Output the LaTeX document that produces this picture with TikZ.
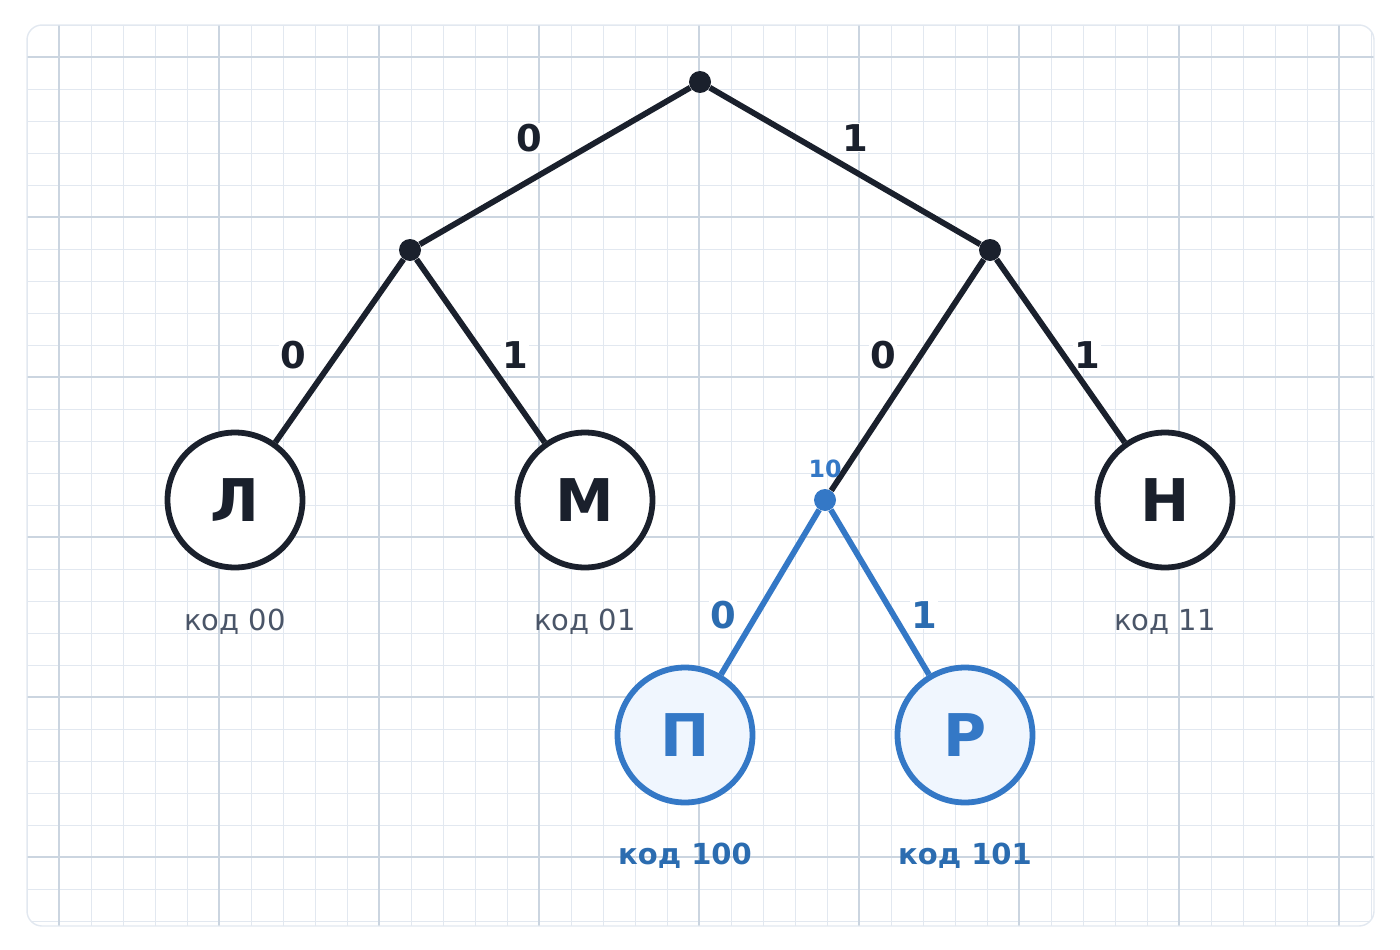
\documentclass[tikz,border=0pt]{standalone}
\usepackage{fontspec}
\setmainfont{DejaVu Sans}
\usetikzlibrary{positioning}
\definecolor{ink}{HTML}{1A202C}
\definecolor{codeblue}{HTML}{3478C6}
\definecolor{codebluedark}{HTML}{2B6CB0}
\definecolor{codegray}{HTML}{4A5568}
\definecolor{gridminor}{HTML}{E2E8F0}
\definecolor{gridmajor}{HTML}{CBD5E0}
\definecolor{leaffill}{HTML}{F0F6FE}
\tikzset{
	leaf/.style={circle, draw=ink, line width=3.3pt, fill=white, minimum size=2.7cm, inner sep=0pt, text=ink, font=\fontsize{33.5}{33.5}\selectfont\bfseries},
	newleaf/.style={leaf, draw=codeblue, fill=leaffill, text=codeblue},
	joint/.style={circle, fill=ink, inner sep=0pt, minimum size=0.44cm},
	bit/.style={anchor=base, fill=white, inner sep=0.6pt, text=ink, font=\fontsize{21}{21}\selectfont\bfseries},
	codelbl/.style={anchor=base, text=codegray, font=\fontsize{16.5}{16.5}\selectfont},
	newcodelbl/.style={anchor=base, text=codebluedark, font=\fontsize{16.5}{16.5}\selectfont\bfseries},
	edge/.style={ink, line width=3.3pt},
}
\begin{document}
\begin{tikzpicture}[x=0.02cm, y=-0.02cm]
				\useasboundingbox (0,0) rectangle (1400,950);
				% paper
				\fill[white, rounded corners=0.3cm] (27,25) rectangle (1374,926);
				\begin{scope}
					\clip[rounded corners=0.3cm] (27,25) rectangle (1374,926);
					\foreach \gx in {27,59,...,1371} \draw[gridminor, line width=0.55pt] (\gx,25) -- (\gx,926);
					\foreach \gy in {25,57,...,921} \draw[gridminor, line width=0.55pt] (27,\gy) -- (1374,\gy);
					\foreach \gx in {59,219,...,1339} \draw[gridmajor, line width=1.1pt] (\gx,25) -- (\gx,926);
					\foreach \gy in {57,217,...,857} \draw[gridmajor, line width=1.1pt] (27,\gy) -- (1374,\gy);
				\end{scope}
				\draw[gridminor, line width=0.8pt, rounded corners=0.3cm] (27,25) rectangle (1374,926);

				% bits
				\node[bit] (b0) at (529,151) {0};
				\node[bit] (b1) at (855,151) {1};
				\node[bit] (b00) at (293,368) {0};
				\node[bit] (b01) at (515,368) {1};
				\node[bit] (b10) at (883,368) {0};
				\node[bit] (b11) at (1087,368) {1};
				\node[bit, text=codebluedark] (b100) at (723,628) {0};
				\node[bit, text=codebluedark] (b101) at (924,628) {1};

				% tree
				\node[joint] (root) at (700,82) {};
				\node[joint] (left) at (410,250) {};
				\node[joint] (right) at (990,250) {};
				\node[leaf] (L) at (235,500) {Л};
				\node[leaf] (M) at (585,500) {М};
				\node[joint, fill=codeblue] (mid) at (825,500) {};
				\node[leaf] (N) at (1165,500) {Н};
				\node[newleaf] (P) at (685,735) {П};
				\node[newleaf] (R) at (965,735) {Р};

				\draw[edge] (root) -- (left);
				\draw[edge] (root) -- (right);
				\draw[edge] (left) -- (L);
				\draw[edge] (left) -- (M);
				\draw[edge] (right) -- (mid);
				\draw[edge] (right) -- (N);
				\draw[edge, codeblue] (mid) -- (P);
				\draw[edge, codeblue] (mid) -- (R);

				\node[anchor=base, text=codeblue, font=\fontsize{13.5}{13.5}\selectfont\bfseries] (midlbl) at (825,477) {10};

				% codes
				\node[codelbl] (cL) at (235,630) {код 00};
				\node[codelbl] (cM) at (585,630) {код 01};
				\node[codelbl] (cN) at (1165,630) {код 11};
				\node[newcodelbl] (cP) at (685,864) {код 100};
				\node[newcodelbl] (cR) at (965,864) {код 101};
			\end{tikzpicture}
\end{document}
